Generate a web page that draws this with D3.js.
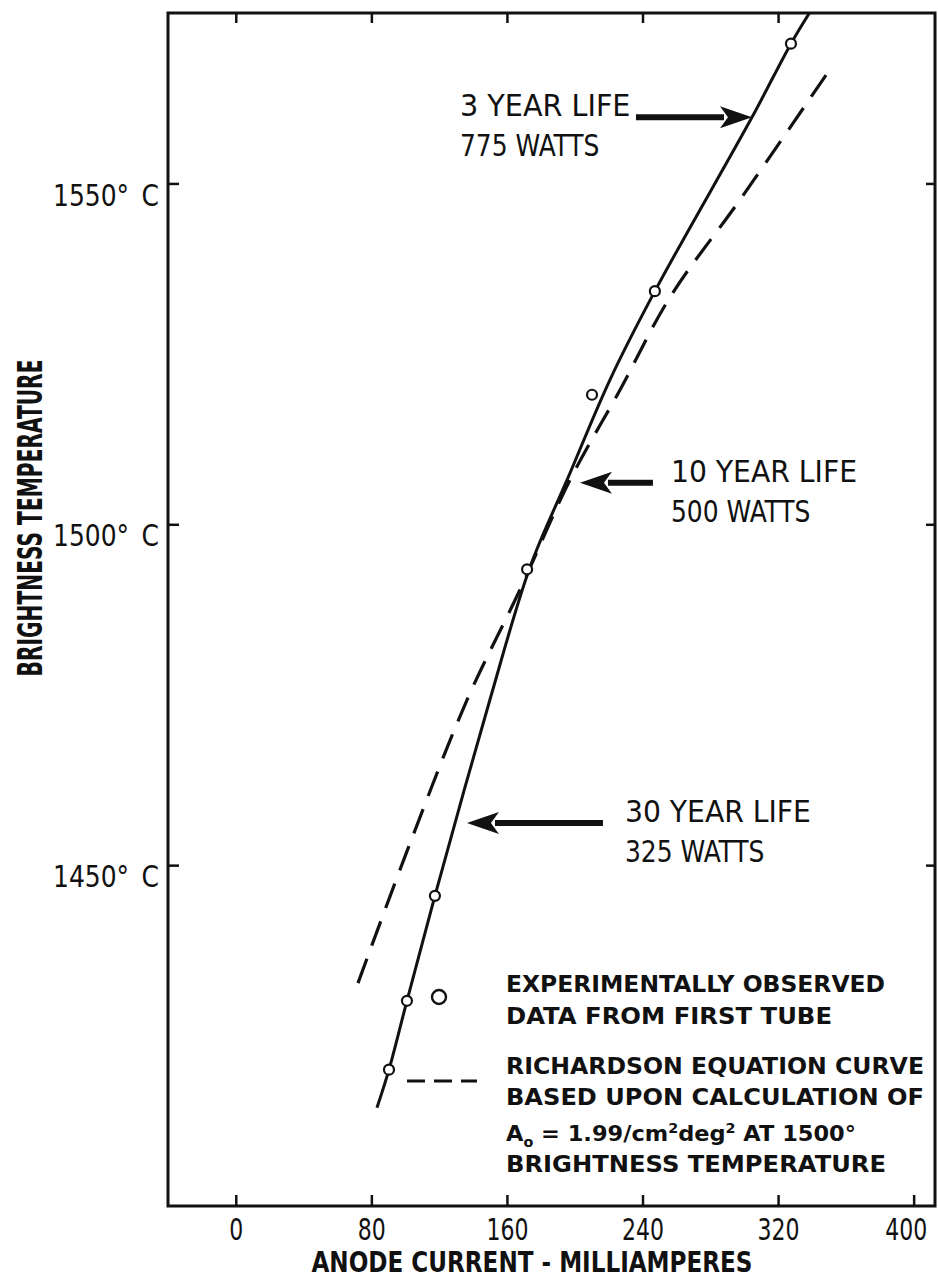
<!DOCTYPE html>
<html>
<head>
<meta charset="utf-8">
<script src="https://cdn.jsdelivr.net/npm/d3@7"></script>
<style>
body{margin:0;background:#fff;}
text{font-family:"DejaVu Sans Condensed","Liberation Sans Narrow","DejaVu Sans",sans-serif;fill:#111;}
.legend text{font-family:"DejaVu Sans","Noto Sans",sans-serif;font-weight:bold;}
</style>
</head>
<body>
<div id="chart"></div>
<script>
// axis ticks
var currentTicks = [0, 80, 160, 240, 320, 400];
var topTicks = [0, 80, 160, 240, 320];
var tempTicks = [1450, 1500, 1550];

// solid curve (mA, deg C)
var solidCurrent = [83.3, 90.4, 101.0, 117.5, 150.0, 173.6, 196.0, 220.8, 247.3, 304.6, 327.6, 338.5];
var solidTemp    = [1414.4, 1420.0, 1430.1, 1445.5, 1474.3, 1493.7, 1506.8, 1521.2, 1534.2, 1559.7, 1570.5, 1575.0];

// richardson equation curve (dashed)
var dashCurrent = [72.1, 102.8, 136.4, 167.7, 197.2, 226.7, 256.2, 297.5, 348.3];
var dashTemp    = [1432.7, 1453.2, 1474.2, 1490.4, 1506.5, 1519.7, 1533.3, 1547.6, 1565.9];

// observed data from first tube
var obsCurrent = [90.4, 101.0, 117.5, 171.9, 210.2, 247.3, 327.6];
var obsTemp    = [1420.0, 1430.1, 1445.5, 1493.4, 1519.0, 1534.2, 1570.5];

// life annotations
var lifeYears   = ["3 YEAR LIFE", "10 YEAR LIFE", "30 YEAR LIFE"];
var lifeWatts   = ["775 WATTS", "500 WATTS", "325 WATTS"];
var lifeCurrent = [304.6, 203.1, 136.4];
var lifeTemp    = [1559.7, 1506.1, 1456.2];

var legendObs = ["EXPERIMENTALLY OBSERVED", "DATA FROM FIRST TUBE"];
var legendRich = ["RICHARDSON EQUATION CURVE", "BASED UPON CALCULATION OF"];

var width = 938;
var height = 1278;
var frameL = 168, frameR = 935, frameT = 13, frameB = 1206;

var x = d3.scaleLinear().domain([-40, 412.6]).range([frameL, frameR]);
var y = d3.scaleLinear().domain([1400, 1575]).range([frameB, frameT]);

var svg = d3.select("#chart").append("svg")
  .attr("width", width)
  .attr("height", height);

svg.append("clipPath").attr("id", "clip")
  .append("rect")
  .attr("x", frameL).attr("y", frameT)
  .attr("width", frameR - frameL).attr("height", frameB - frameT);

/* axes */
var xAxis = d3.axisBottom(x).tickValues(currentTicks).tickSizeInner(-11).tickSizeOuter(0).tickPadding(13);
var gx = svg.append("g").attr("transform", `translate(0,${frameB})`).call(xAxis);
gx.select(".domain").remove();
gx.selectAll("line").attr("stroke", "#111").attr("stroke-width", 2.5);
gx.selectAll("text")
  .attr("font-size", 30)
  .attr("fill", "#111")
  .attr("dx", d => d === 400 ? -8 : 0)
  .attr("textLength", d => String(d).length * 14)
  .attr("lengthAdjust", "spacingAndGlyphs");

var gxt = svg.append("g").attr("transform", `translate(0,${frameT})`)
  .call(d3.axisTop(x).tickValues(topTicks).tickSizeInner(-10).tickSizeOuter(0).tickFormat(""));
gxt.select(".domain").remove();
gxt.selectAll("line").attr("stroke", "#111").attr("stroke-width", 2.5);

var yAxis = d3.axisLeft(y).tickValues(tempTicks).tickSizeInner(-11).tickSizeOuter(0).tickPadding(9)
  .tickFormat(d => d + "\u00B0\u2002C");
var gy = svg.append("g").attr("transform", `translate(${frameL},0)`).call(yAxis);
gy.select(".domain").remove();
gy.selectAll("line").attr("stroke", "#111").attr("stroke-width", 2.5);
gy.selectAll("text")
  .attr("font-size", 30)
  .attr("fill", "#111")
  .attr("dy", "0.72em")
  .attr("textLength", 106)
  .attr("lengthAdjust", "spacingAndGlyphs");

var gyr = svg.append("g").attr("transform", `translate(${frameR},0)`)
  .call(d3.axisRight(y).tickValues(tempTicks).tickSizeInner(-9).tickSizeOuter(0).tickFormat(""));
gyr.select(".domain").remove();
gyr.selectAll("line").attr("stroke", "#111").attr("stroke-width", 2.5);

// frame
svg.append("rect")
  .attr("x", frameL).attr("y", frameT)
  .attr("width", frameR - frameL).attr("height", frameB - frameT)
  .attr("fill", "none")
  .attr("stroke", "#111")
  .attr("stroke-width", 3);

// axis titles
svg.append("text")
  .attr("x", 532).attr("y", 1272)
  .attr("text-anchor", "middle")
  .attr("font-size", 28)
  .attr("font-weight", "bold")
  .attr("textLength", 441)
  .attr("lengthAdjust", "spacingAndGlyphs")
  .text("ANODE CURRENT - MILLIAMPERES");

svg.append("text")
  .attr("transform", "translate(42,518) rotate(-90)")
  .attr("text-anchor", "middle")
  .attr("font-size", 33)
  .attr("font-weight", "bold")
  .attr("textLength", 317)
  .attr("lengthAdjust", "spacingAndGlyphs")
  .text("BRIGHTNESS TEMPERATURE");

/* curves */
var solidData = solidCurrent.map((c, i) => ({current: c, temp: solidTemp[i]}));
var dashData = dashCurrent.map((c, i) => ({current: c, temp: dashTemp[i]}));
var obsData = obsCurrent.map((c, i) => ({current: c, temp: obsTemp[i]}));

var line = d3.line()
  .x(d => x(d.current))
  .y(d => y(d.temp))
  .curve(d3.curveCatmullRom.alpha(0.5));

var plot = svg.append("g").attr("clip-path", "url(#clip)");

plot.append("path")
  .attr("d", line(dashData))
  .attr("fill", "none")
  .attr("stroke", "#111")
  .attr("stroke-width", 3.2)
  .attr("stroke-dasharray", "26,14");

plot.append("path")
  .attr("d", line(solidData))
  .attr("fill", "none")
  .attr("stroke", "#111")
  .attr("stroke-width", 3);

plot.selectAll(".obs")
  .data(obsData).enter()
  .append("circle")
  .attr("class", "obs")
  .attr("cx", d => x(d.current))
  .attr("cy", d => y(d.temp))
  .attr("r", 5)
  .attr("fill", "#fff")
  .attr("stroke", "#111")
  .attr("stroke-width", 2.2);

/* life annotations */
var dir = [1, -1, -1];       // 1 = arrow points right
var shaft = [116, 73, 136];
var textGap = [176, 18, 22];
var charW = 15.5;

lifeYears.forEach(function(label, i) {
  var tx = x(lifeCurrent[i]);
  var ty = y(lifeTemp[i]);
  var tail = tx - dir[i] * shaft[i];
  var head = 32, half = 11;
  var g = svg.append("g");
  g.append("line")
    .attr("x1", tail).attr("y1", ty)
    .attr("x2", tx - dir[i] * (head - 4)).attr("y2", ty)
    .attr("stroke", "#111")
    .attr("stroke-width", 6);
  g.append("path")
    .attr("d", `M${tx},${ty} L${tx - dir[i] * head},${ty - half} L${tx - dir[i] * (head - 8)},${ty} L${tx - dir[i] * head},${ty + half} Z`)
    .attr("fill", "#111");
  var textX = dir[i] === 1 ? tail - textGap[i] : tail + textGap[i];
  g.append("text")
    .attr("x", textX).attr("y", ty - 1)
    .attr("font-size", 31)
    .attr("textLength", label.length * charW)
    .attr("lengthAdjust", "spacingAndGlyphs")
    .text(label);
  g.append("text")
    .attr("x", textX).attr("y", ty + 39)
    .attr("font-size", 31)
    .attr("textLength", lifeWatts[i].length * charW)
    .attr("lengthAdjust", "spacingAndGlyphs")
    .text(lifeWatts[i]);
});

/* legend */
var legend = svg.append("g").attr("class", "legend");
legend.append("circle")
  .attr("cx", 439).attr("cy", 997).attr("r", 7)
  .attr("fill", "#fff").attr("stroke", "#111").attr("stroke-width", 2.4);
legend.append("line")
  .attr("x1", 407).attr("y1", 1081).attr("x2", 477).attr("y2", 1081)
  .attr("stroke", "#111").attr("stroke-width", 3)
  .attr("stroke-dasharray", "18,9");

var legendW = [379, 326, 418, 418];
legendObs.concat(legendRich).forEach(function(t, i) {
  legend.append("text")
    .attr("x", 506)
    .attr("y", [992, 1024, 1074, 1105][i])
    .attr("font-size", 23)
    .attr("textLength", legendW[i])
    .attr("lengthAdjust", "spacingAndGlyphs")
    .text(t);
});

var a0 = legend.append("text")
  .attr("x", 506).attr("y", 1141)
  .attr("font-size", 22);
a0.append("tspan").text("A");
a0.append("tspan").attr("font-size", 14).attr("dy", 6).text("o");
a0.append("tspan").attr("dy", -6).text(" = 1.99/cm");
a0.append("tspan").attr("font-size", 14).attr("dy", -8).text("2");
a0.append("tspan").attr("dy", 8).text("deg");
a0.append("tspan").attr("font-size", 14).attr("dy", -8).text("2");
a0.append("tspan").attr("dy", 8).text(" AT  1500\u00B0");
a0.attr("textLength", 350).attr("lengthAdjust", "spacingAndGlyphs");

legend.append("text")
  .attr("x", 506).attr("y", 1172)
  .attr("font-size", 23)
  .attr("textLength", 380)
  .attr("lengthAdjust", "spacingAndGlyphs")
  .text("BRIGHTNESS TEMPERATURE");
</script>
</body>
</html>
